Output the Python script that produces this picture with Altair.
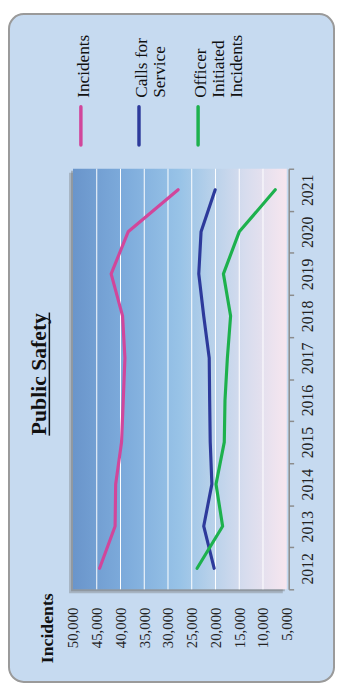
import altair as alt
import pandas as pd

# ---------------- data ----------------
years = [2012, 2013, 2014, 2015, 2016, 2017, 2018, 2019, 2020, 2021]
incidents = [44400, 41140, 41020, 39780, 39420, 39070, 39570, 41970, 38390, 27870]
calls_for_service = [20280, 22480, 20760, 21110, 21230, 21320, 22480, 23520, 23040, 20070]
officer_initiated = [23870, 18500, 19890, 18150, 18000, 17500, 16820, 18330, 15010, 7420]

series_names = ["Incidents", "Calls for Service", "Officer Initiated Incidents"]
legend_labels = ["Incidents", "Calls for\nService", "Officer\nInitiated\nIncidents"]
series_colors = ["#d1469b", "#2d3a9b", "#1db14d"]

value_ticks = [50000, 45000, 40000, 35000, 30000, 25000, 20000, 15000, 10000, 5000]
grid_values = [45000, 40000, 35000, 30000, 25000, 20000, 15000, 10000]

chart_title = "Public Safety"
value_title = "Incidents"

# ---------------- tables ----------------
rows = []
for name, vals in zip(series_names, [incidents, calls_for_service, officer_initiated]):
    for y, v in zip(years, vals):
        rows.append({"year": y, "value": v, "series": name})
df = pd.DataFrame(rows)
grid_df = pd.DataFrame({"value": grid_values})
one = pd.DataFrame({"k": [0]})

W, H = 217, 427
SERIF = "Liberation Serif"

x_scale = alt.Scale(domain=[5000, 50000], reverse=True, nice=False, zero=False)
y_scale = alt.Scale(type="band", paddingInner=0, paddingOuter=0)

x_axis = alt.Axis(orient="bottom", title=None, values=value_ticks,
                  labelExpr="format(datum.value, ',')",
                  labelAngle=270, labelAlign="right", labelBaseline="middle",
                  labelPadding=18, ticks=False, tickSize=0, domain=False, grid=False,
                  labelFlush=False, labelOverlap=False, labelFont=SERIF,
                  labelFontSize=15, labelColor="#222222", zindex=1)
y_axis = alt.Axis(orient="right", title=None, tickBand="extent", offset=2,
                  domainColor="#8c8c8c", domainWidth=1.5, tickColor="#8c8c8c",
                  tickWidth=1.5, tickSize=5, labelAngle=270, labelAlign="center",
                  labelBaseline="middle", labelPadding=14, labelOverlap=False,
                  labelFont=SERIF, labelFontSize=16, labelColor="#222222",
                  grid=False, zindex=1)

# ---------------- decoration ----------------
panel = alt.Chart(one).mark_rect(
    fill="#c6daf0", stroke="#9a9a9a", strokeWidth=2, cornerRadius=15
).encode(x=alt.value(-65), x2=alt.value(265), y=alt.value(-157), y2=alt.value(521))

shadow1 = alt.Chart(one).mark_rect(fill="#6e6e6e", opacity=0.35).encode(
    x=alt.value(-4), x2=alt.value(W - 4), y=alt.value(4), y2=alt.value(H + 4))
shadow2 = alt.Chart(one).mark_rect(fill="#6e6e6e", opacity=0.4).encode(
    x=alt.value(-2), x2=alt.value(W - 2), y=alt.value(2), y2=alt.value(H + 2))

gradient = alt.Gradient(
    gradient="linear", x1=0, x2=1, y1=0, y2=0,
    stops=[
        alt.GradientStop(color="#6a95cb", offset=0),
        alt.GradientStop(color="#7eacdc", offset=0.25),
        alt.GradientStop(color="#98c3e7", offset=0.5),
        alt.GradientStop(color="#b8d1ea", offset=0.65),
        alt.GradientStop(color="#d6dcee", offset=0.8),
        alt.GradientStop(color="#f7e6ef", offset=1),
    ],
)
plot_bg = alt.Chart(one).mark_rect(fill=gradient).encode(
    x=alt.value(0), x2=alt.value(W), y=alt.value(0), y2=alt.value(H))

grid = alt.Chart(grid_df).mark_rule(color="white", strokeWidth=1).encode(
    x=alt.X("value:Q", scale=x_scale, axis=x_axis), y=alt.value(0), y2=alt.value(H))

lines = alt.Chart(df).mark_line(strokeWidth=3.2, strokeCap="round", strokeJoin="round").encode(
    x=alt.X("value:Q", scale=x_scale, axis=x_axis),
    y=alt.Y("year:O", sort="descending", scale=y_scale, axis=y_axis, bandPosition=0.5),
    color=alt.Color("series:N", scale=alt.Scale(domain=series_names, range=series_colors), legend=None),
    order=alt.Order("year:Q"),
)

# ---------------- legend ----------------
sym_x = [8, 67, 127]
legend_layers = []
for i, (lab, col) in enumerate(zip(legend_labels, series_colors)):
    legend_layers.append(
        alt.Chart(one).mark_rule(color=col, strokeWidth=3.5, strokeCap="round").encode(
            x=alt.value(sym_x[i]), y=alt.value(-63), y2=alt.value(-24)))
    legend_layers.append(
        alt.Chart(one).mark_text(angle=270, align="left", baseline="top", lineBreak="\n",
                                 lineHeight=18.5, font=SERIF, fontSize=17.5, color="#111111").encode(
            x=alt.value(sym_x[i] - 6), y=alt.value(-72), text=alt.value(lab)))

title_text = alt.Chart(one).mark_text(angle=270, align="center", baseline="alphabetic",
                                      font=SERIF, fontSize=22, fontWeight="bold",
                                      color="#111111").encode(
    x=alt.value(-27), y=alt.value(208.5), text=alt.value(chart_title))
underline = alt.Chart(one).mark_rule(color="#111111", strokeWidth=1.5).encode(
    x=alt.value(-24), y=alt.value(146), y2=alt.value(271))

axis_title = alt.Chart(one).mark_text(angle=270, align="left", baseline="middle",
                                      font=SERIF, fontSize=18, fontWeight="bold",
                                      color="#111111").encode(
    x=alt.value(-25), y=alt.value(502), text=alt.value(value_title))

chart = alt.layer(
    panel, shadow1, shadow2, plot_bg, grid, lines, *legend_layers,
    title_text, underline, axis_title
).properties(
    width=W, height=H,
    autosize=alt.AutoSizeParams(type="none"),
    padding={"left": 66, "top": 158, "right": 49, "bottom": 95},
    background="white",
).configure_view(strokeWidth=0)

chart.save("out.html", embed_options={"renderer": "svg", "actions": False})
